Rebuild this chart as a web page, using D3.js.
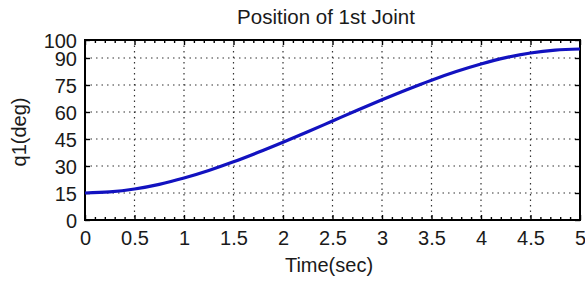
<!DOCTYPE html>
<html>
<head>
<meta charset="utf-8">
<script src="https://cdn.jsdelivr.net/npm/d3@7"></script>
<style>
  html, body { margin: 0; padding: 0; background: #fff; }
  svg text { font-family: "Liberation Sans", Arial, sans-serif; fill: #1a1a1a; }
</style>
</head>
<body>
<svg id="chart" width="585" height="284"></svg>
<script>
const times = [0, 0.25, 0.5, 0.75, 1, 1.25, 1.5, 1.75, 2, 2.25, 2.5, 2.75, 3, 3.25, 3.5, 3.75, 4, 4.25, 4.5, 4.75, 5];
const q1 = [15, 15.6, 17.2, 19.8, 23.3, 27.5, 32.3, 37.6, 43.2, 49.0, 55, 61.0, 66.8, 72.4, 77.7, 82.5, 86.7, 90.2, 92.8, 94.4, 95];
const xTicks = [0, 0.5, 1, 1.5, 2, 2.5, 3, 3.5, 4, 4.5, 5];
const xMinor = [0.1, 0.2, 0.3, 0.4, 0.6, 0.7, 0.8, 0.9, 1.1, 1.2, 1.3, 1.4, 1.6, 1.7, 1.8, 1.9,
  2.1, 2.2, 2.3, 2.4, 2.6, 2.7, 2.8, 2.9, 3.1, 3.2, 3.3, 3.4, 3.6, 3.7, 3.8, 3.9, 4.1, 4.2, 4.3, 4.4, 4.6, 4.7, 4.8, 4.9];
const yTicks = [0, 15, 30, 45, 60, 75, 90, 100];

const margin = {top: 40, right: 5, bottom: 64, left: 85};
const width = 585 - margin.left - margin.right;
const height = 284 - margin.top - margin.bottom;

const svg = d3.select('#chart');
const g = svg.append('g')
    .attr('transform', 'translate(' + margin.left + ',' + margin.top + ')');

const x = d3.scaleLinear().domain([0, 5]).range([0, width]);
const y = d3.scaleLinear().domain([0, 100]).range([height, 0]);

// dotted grid
g.append('g').selectAll('line')
    .data(xTicks.slice(1, -1))
  .join('line')
    .attr('x1', d => x(d)).attr('x2', d => x(d))
    .attr('y1', 0).attr('y2', height)
    .attr('stroke', '#333').attr('stroke-width', 1.2)
    .attr('stroke-dasharray', '1.5,4');
g.append('g').selectAll('line')
    .data(yTicks.slice(1, -1))
  .join('line')
    .attr('x1', 0).attr('x2', width)
    .attr('y1', d => y(d)).attr('y2', d => y(d))
    .attr('stroke', '#333').attr('stroke-width', 1.2)
    .attr('stroke-dasharray', '1.5,4');

// axes: labels on bottom / left, inward ticks on all four sides
g.append('g')
    .attr('transform', 'translate(0,' + height + ')')
    .call(d3.axisBottom(x).tickValues(xTicks).tickSizeInner(-5).tickSizeOuter(0).tickPadding(11).tickFormat(d3.format('')));
const yAxis = g.append('g')
    .call(d3.axisLeft(y).tickValues(yTicks).tickSizeInner(-5).tickSizeOuter(0).tickPadding(8));
g.append('g')
    .call(d3.axisTop(x).tickValues(xTicks).tickSizeInner(-5).tickSizeOuter(0).tickFormat(''));
g.append('g')
    .attr('transform', 'translate(' + width + ',0)')
    .call(d3.axisRight(y).tickValues(yTicks).tickSizeInner(-5).tickSizeOuter(0).tickFormat(''));
g.append('g')
    .attr('transform', 'translate(0,' + height + ')')
    .call(d3.axisBottom(x).tickValues(xMinor).tickSizeInner(-3).tickSizeOuter(0).tickFormat(''));
g.append('g')
    .call(d3.axisTop(x).tickValues(xMinor).tickSizeInner(-3).tickSizeOuter(0).tickFormat(''));

g.selectAll('.domain').remove();
g.selectAll('.tick line').attr('stroke', '#000').attr('stroke-width', 1.4);
g.selectAll('.tick text').attr('font-size', '20px').attr('fill', '#1a1a1a');
yAxis.selectAll('.tick text').attr('dy', '0.36em');

// plot box
g.append('rect')
    .attr('x', 0).attr('y', 0).attr('width', width).attr('height', height)
    .attr('fill', 'none').attr('stroke', '#000').attr('stroke-width', 2);

// the trajectory
const line = d3.line()
    .x((d, i) => x(times[i]))
    .y(d => y(d))
    .curve(d3.curveMonotoneX);
g.append('path')
    .datum(q1)
    .attr('fill', 'none')
    .attr('stroke', '#1212c0')
    .attr('stroke-width', 3.2)
    .attr('d', line);

// titles
svg.append('text')
    .attr('x', 326).attr('y', 24)
    .attr('text-anchor', 'middle').attr('font-size', '20.5px')
    .text('Position of 1st Joint');
svg.append('text')
    .attr('x', 329).attr('y', 272)
    .attr('text-anchor', 'middle').attr('font-size', '20px')
    .text('Time(sec)');
svg.append('text')
    .attr('transform', 'translate(26,132) rotate(-90)')
    .attr('text-anchor', 'middle').attr('font-size', '20px')
    .text('q1(deg)');
</script>
</body>
</html>
